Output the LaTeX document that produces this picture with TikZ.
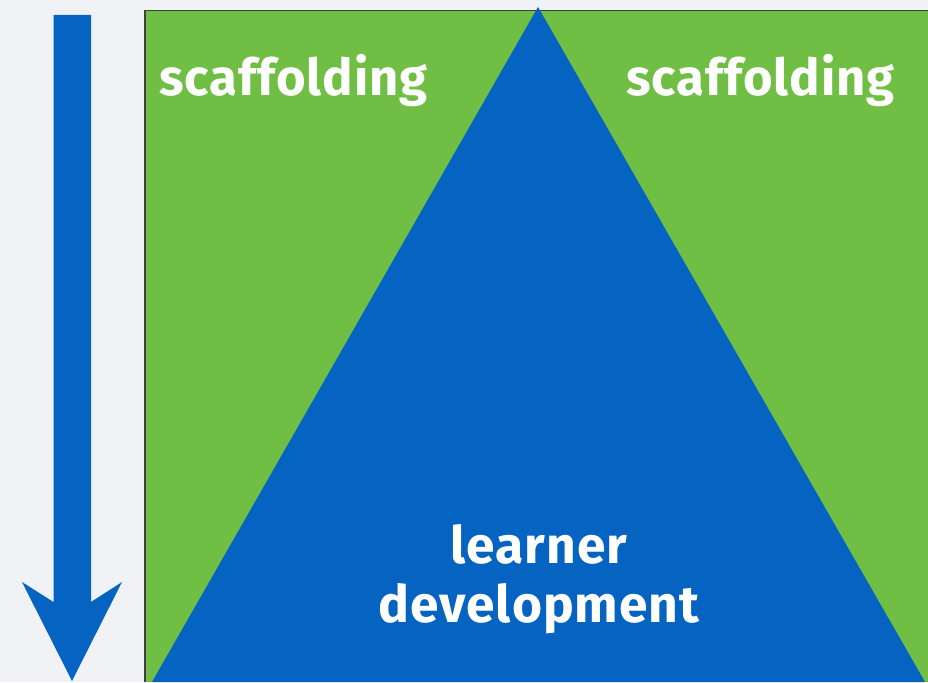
\documentclass[tikz,border=0pt]{standalone}
\usepackage{fontspec}
\newfontfamily\labelfont{Fira Sans}[LetterSpace=2]
\definecolor{bgc}{HTML}{F0F2F6}
\definecolor{bluec}{HTML}{0563C1}
\definecolor{greenc}{HTML}{70BF44}
\tikzset{
  lbl/.style={text=white, font=\labelfont\bfseries\fontsize{50.8}{59}\selectfont, inner sep=0pt},
}
\begin{document}
\begin{tikzpicture}[x=1pt,y=-1pt]
\useasboundingbox (0,0) rectangle (928,682);
\fill[bgc] (0,0) rectangle (928,682);
% arrow
\fill[bluec] (53.5,15) -- (91,15) -- (91,602) -- (122,582) -- (72,681) -- (22,582) -- (53.5,602) -- cycle;
% frame
\fill[greenc] (145,10.5) rectangle (928,682);
\draw[black!75, line width=1.2pt] (145,682) -- (145,10.5) -- (928,10.5);
% triangle
\fill[bluec] (538,7) -- (925,682) -- (152,682) -- cycle;
% labels
\node[lbl, anchor=base west] (s1) at (159,96) {scaffolding};
\node[lbl, anchor=base west] (s2) at (626,96) {scaffolding};
\node[lbl, anchor=base, align=center, font=\labelfont\bfseries\fontsize{51.5}{59}\selectfont] (ld) at (539,622) {learner\\development};
\end{tikzpicture}
\end{document}
